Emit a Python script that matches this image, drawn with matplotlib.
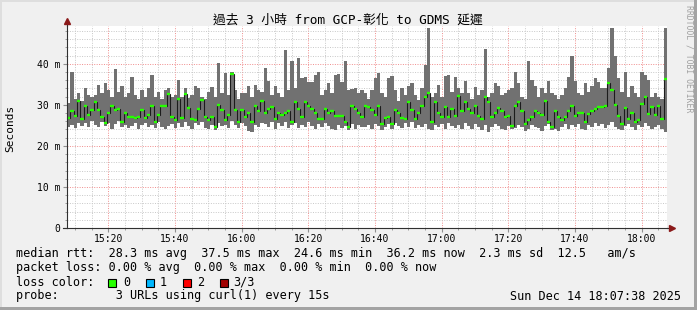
import numpy as np
import matplotlib
matplotlib.use("Agg")
import matplotlib.pyplot as plt
from matplotlib.ticker import MultipleLocator, FuncFormatter
from matplotlib.patches import Rectangle

# ---- data (one bin per minute, values in ms) ----
START = 15 * 60 + 7 + 38 / 60.0  # 15:07:38 as minutes after midnight

smoke_hi = [
    30.4, 37.9, 31.5, 33.0, 31.0, 34.0, 32.5, 32.0, 32.5, 34.9, 33.0, 35.3, 33.5, 32.0, 38.8,
    33.2, 34.5, 32.0, 33.0, 36.9, 32.5, 31.5, 33.5, 32.0, 34.0, 37.3, 32.0, 33.2, 31.5, 33.7,
    34.0, 31.8, 32.5, 36.1, 32.0, 34.2, 31.6, 32.5, 34.5, 34.0, 32.0, 31.5, 33.2, 34.3, 31.8,
    40.3, 33.0, 37.8, 32.5, 37.9, 33.5, 31.5, 32.8, 33.0, 34.5, 32.0, 34.8, 33.5, 33.2,
    39.0, 35.7, 32.5, 34.5, 33.0, 32.0, 43.4, 33.5, 40.6, 34.0, 41.3, 36.5, 36.7, 35.5, 35.5,
    37.2, 38.1, 32.5, 33.5, 35.4, 33.0, 37.3, 37.6, 35.5, 40.6, 33.5, 33.8, 34.1, 32.8, 33.5,
    32.8, 31.5, 33.5, 36.5, 37.7, 33.0, 32.0, 36.5, 37.0, 33.5, 31.0, 34.0, 32.5, 34.5,
    35.3, 32.5, 31.2, 34.0, 39.8, 48.7, 32.0, 33.0, 34.9, 32.0, 37.0, 37.3, 33.2, 36.8,
    34.0, 32.8, 35.7, 33.0, 31.5, 34.4, 32.5, 33.5, 43.6, 32.0, 33.0, 35.3, 34.5, 32.5, 32.8,
    33.5, 34.0, 37.9, 35.2, 32.0, 31.5, 40.6, 36.0, 34.5, 32.0, 34.0, 32.8, 35.9, 33.0, 32.5,
    31.5, 32.5, 34.0, 36.7, 41.8, 35.8, 33.0, 32.5, 35.3, 33.2, 34.5, 36.5, 35.5, 34.2, 34.0,
    39.0, 48.7, 41.8, 36.5, 33.2, 38.1, 32.0, 34.5, 33.0, 31.8, 38.1, 37.3, 36.1, 32.0, 33.0,
    32.0, 31.5, 48.7,
]

smoke_lo = [
    24.5, 25.0, 24.3, 25.5, 24.8, 25.5, 24.5, 26.0, 25.0, 24.7, 25.8, 24.9, 25.5, 24.2, 25.3,
    26.0, 24.6, 25.2, 24.4, 24.8, 25.6, 24.2, 25.0, 25.5, 24.5, 25.2, 24.4, 25.8, 24.6, 24.1,
    24.8, 25.4, 24.3, 25.6, 24.5, 25.8, 24.9, 24.2, 25.5, 25.0, 25.8, 24.4, 24.0, 25.2, 23.9,
    25.5, 24.8, 25.1, 24.3, 26.0, 25.0, 24.3, 25.6, 24.8, 23.6, 23.5, 25.2, 24.5, 25.5,
    25.3, 24.6, 25.8, 24.2, 25.5, 24.9, 25.9, 24.3, 25.0, 25.6, 24.4, 25.1, 24.5, 25.8, 24.8,
    24.2, 25.3, 24.6, 25.5, 24.9, 24.0, 23.8, 25.2, 24.4, 24.9, 23.8, 25.4, 24.1, 25.0, 24.6,
    24.5, 25.2, 24.0, 25.4, 24.8, 23.8, 24.6, 25.3, 24.2, 25.6, 24.9, 24.4, 25.5, 24.7,
    25.8, 24.3, 25.0, 24.6, 25.4, 24.0, 23.8, 25.1, 24.5, 25.3, 24.2, 25.6, 24.8, 24.4,
    25.0, 24.2, 25.5, 24.8, 24.0, 25.3, 24.6, 23.9, 25.2, 23.5, 24.5, 25.4, 24.8, 24.0, 23.8,
    24.9, 24.0, 24.3, 25.0, 24.6, 23.6, 24.0, 25.2, 24.7, 24.3, 23.7, 24.9, 25.3, 23.8, 24.0,
    23.6, 24.5, 25.3, 24.1, 25.0, 24.6, 25.4, 24.2, 23.8, 25.0, 24.5, 25.6, 24.9, 25.3, 24.4,
    25.1, 25.8, 24.6, 24.0, 23.9, 24.8, 25.4, 24.6, 23.9, 25.2, 24.5, 25.5, 24.8, 24.0, 24.6,
    25.2, 24.0, 23.5,
]

median_rtt = [
    26.8, 28.4, 27.4, 31.0, 26.5, 29.6, 27.6, 28.8, 30.6, 28.8, 27.1, 25.5, 28.1, 29.7, 28.8,
    28.9, 25.7, 28.1, 27.1, 27.0, 26.8, 27.1, 28.8, 26.8, 27.6, 29.8, 25.9, 27.6, 29.8, 29.6,
    32.7, 27.1, 26.3, 31.4, 26.7, 32.7, 29.2, 26.5, 26.3, 28.9, 31.2, 27.1, 26.3, 27.1, 24.6,
    30.0, 28.8, 26.3, 27.6, 37.5, 28.8, 25.9, 28.8, 27.1, 28.0, 25.9, 29.6, 28.4, 31.0,
    28.0, 28.9, 29.4, 26.5, 28.1, 27.6, 28.1, 28.4, 25.9, 30.8, 28.9, 27.1, 30.6, 29.7, 28.9,
    28.1, 26.5, 26.5, 28.9, 28.1, 28.6, 27.3, 27.3, 27.3, 25.9, 24.6, 29.6, 28.9, 28.1, 27.1,
    29.7, 29.4, 28.8, 27.6, 29.6, 25.4, 26.7, 27.0, 25.4, 28.8, 28.0, 26.7, 26.5, 30.6,
    28.8, 26.5, 28.0, 29.7, 31.9, 33.0, 25.7, 30.6, 28.1, 27.1, 29.4, 27.1, 28.9, 27.3,
    32.2, 28.6, 30.6, 28.9, 28.1, 29.6, 27.3, 26.5, 31.9, 30.6, 27.0, 28.0, 29.2, 28.4, 27.1,
    27.3, 24.9, 29.7, 30.8, 28.6, 25.4, 26.3, 27.0, 28.6, 28.1, 27.6, 31.0, 25.9, 24.6, 28.4,
    27.1, 26.3, 27.0, 28.4, 29.7, 27.3, 28.1, 28.1, 25.7, 27.8, 28.4, 28.9, 29.4, 29.4, 29.7,
    35.3, 33.7, 30.0, 27.3, 25.4, 29.2, 26.5, 28.1, 25.9, 26.3, 30.2, 31.9, 27.8, 29.4, 27.6,
    29.7, 26.5, 36.2,
]

TITLE = "過去 3 小時 from GCP-彰化 to GDMS 延遲"
LEGEND_RTT = "median rtt:  28.3 ms avg  37.5 ms max  24.6 ms min  36.2 ms now  2.3 ms sd  12.5   am/s"
LEGEND_LOSS = "packet loss: 0.00 % avg  0.00 % max  0.00 % min  0.00 % now"
LOSS_LABELS = ["0", "1", "2", "3/3"]
LOSS_COLORS = ["#26ff00", "#00b8ff", "#ff0000", "#a10000"]
PROBE = "probe:        3 URLs using curl(1) every 15s"
STAMP = "Sun Dec 14 18:07:38 2025"

W, H = 697, 310


def fx(x):
    return x / W


def fy(y):
    return 1 - y / H


def fmt_time(v, pos):
    v = int(round(v))
    return "{:02d}:{:02d}".format(v // 60, v % 60)


def fmt_ms(v, pos):
    return "0" if v == 0 else "{:g} m".format(v)


plt.rcParams["font.family"] = ["DejaVu Sans Mono", "Noto Sans CJK TC"]

fig = plt.figure(figsize=(W / 100, H / 100), dpi=100, facecolor="#f0f0f0")

# 3d-ish frame around the image
for xy, w, h, c in [((0, fy(2)), 1, 2 / H, "#dedede"), ((0, 0), 2 / W, 1, "#dedede"),
                    ((0, 0), 1, 3 / H, "#a3a3a3"), ((fx(694), 0), 3 / W, 1, "#a3a3a3")]:
    fig.add_artist(Rectangle(xy, w, h, transform=fig.transFigure, color=c, lw=0))

ax = fig.add_axes([fx(67), fy(228), 600 / W, 202 / H])
ax.set_facecolor("white")

n = len(median_rtt)
edges = START + np.arange(n + 1)
hi = np.array(smoke_hi)
lo = np.array(smoke_lo)
med = np.array(median_rtt)

ax.stairs(hi, edges, baseline=lo, fill=True, color="#717171", lw=0)
ax.stairs(med, edges, baseline=None, color="#1c1c1c", lw=0.8)
ax.hlines(med, edges[:-1], edges[1:], colors="#26ff00", lw=1.7)

ax.set_xlim(START, START + 180)
ax.set_ylim(0, 49.2)

ax.xaxis.set_major_locator(MultipleLocator(20))
ax.xaxis.set_minor_locator(MultipleLocator(5))
ax.yaxis.set_major_locator(MultipleLocator(10))
ax.yaxis.set_minor_locator(MultipleLocator(2))
ax.xaxis.set_major_formatter(FuncFormatter(fmt_time))
ax.yaxis.set_major_formatter(FuncFormatter(fmt_ms))

ax.set_axisbelow(True)
ax.grid(which="minor", color="#c8c8c8", ls=(0, (1, 1.5)), lw=0.7)
ax.grid(which="major", color="#f08c8c", ls=(0, (1, 1.5)), lw=0.7)

ax.tick_params(which="both", direction="out", color="#909090", labelsize=7)
ax.tick_params(which="major", length=3)
ax.tick_params(which="minor", length=1.5)
ax.tick_params(axis="y", pad=2)
ax.tick_params(axis="x", pad=1.5)

for s in ["top", "right"]:
    ax.spines[s].set_visible(False)
for s in ["left", "bottom"]:
    ax.spines[s].set_color("#303030")
    ax.spines[s].set_linewidth(0.8)

# axis arrows
ax.plot([0, 0], [1, 1.02], color="#303030", lw=0.8, transform=ax.transAxes, clip_on=False)
ax.plot([0], [1.025], marker="^", ms=4.5, color="#8b1a1a", mec="#8b1a1a",
        transform=ax.transAxes, clip_on=False)
ax.plot([-0.007, 0], [0, 0], color="#303030", lw=0.8, transform=ax.transAxes, clip_on=False)
ax.plot([1.0, 1.004], [0, 0], color="#303030", lw=0.8, transform=ax.transAxes, clip_on=False)
ax.plot([1.008], [0], marker=">", ms=4.5, color="#8b1a1a", mec="#8b1a1a",
        transform=ax.transAxes, clip_on=False)

# texts
fig.text(fx(348), fy(20), TITLE, ha="center", va="center", fontsize=9.2)
fig.text(fx(10), fy(128), "Seconds", rotation=90, ha="center", va="center", fontsize=8)
fig.text(fx(689), fy(5), "RRDTOOL / TOBI OETIKER", rotation=-90, ha="center", va="top",
         fontsize=5.9, color="#a0a0a0")

fs = 8.5
fig.text(fx(16), fy(254), LEGEND_RTT, ha="left", va="center", fontsize=fs)
fig.text(fx(16), fy(268), LEGEND_LOSS, ha="left", va="center", fontsize=fs)
fig.text(fx(16), fy(282), "loss color:", ha="left", va="center", fontsize=fs)
sq_x = [108, 145.5, 182.5, 219.5]
lab_x = [123, 160, 197, 233]
for sx, lx, lab, c in zip(sq_x, lab_x, LOSS_LABELS, LOSS_COLORS):
    fig.add_artist(Rectangle((fx(sx), fy(286.5)), 8 / W, 8 / H, transform=fig.transFigure,
                             facecolor=c, edgecolor="black", lw=0.8))
    fig.text(fx(lx), fy(282), lab, ha="left", va="center", fontsize=fs)
fig.text(fx(16), fy(296), PROBE, ha="left", va="center", fontsize=fs)
fig.text(fx(681), fy(296), STAMP, ha="right", va="center", fontsize=fs)

fig.savefig("out.png", dpi=100, facecolor=fig.get_facecolor())
